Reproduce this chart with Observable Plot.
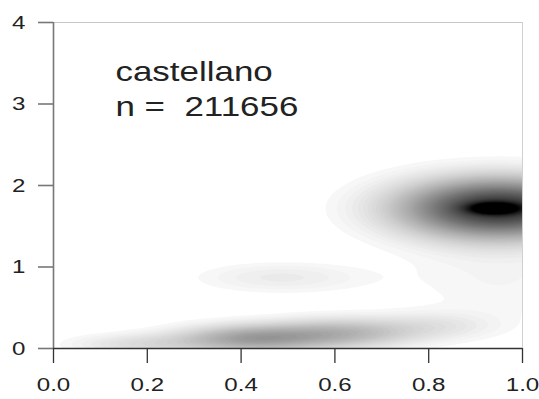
<!DOCTYPE html>
<html>
<head>
<meta charset="utf-8">
<script src="https://cdn.jsdelivr.net/npm/d3@7"></script>
<script src="https://cdn.jsdelivr.net/npm/@observablehq/plot@0.6"></script>
<style>
  html, body { margin: 0; padding: 0; background: white; }
  svg text { white-space: pre; }
</style>
</head>
<body>
<div id="chart"></div>
<script>
// Tick labels
const xTicks = [0, 0.2, 0.4, 0.6, 0.8, 1.0];
const yTicks = [0, 1, 2, 3, 4];
const labelLines = ["castellano", "n =  211656"];

// Density estimated as a mixture of Gaussian blobs
const compX  = [0.94, 0.95, 0.485, 0.95, 0.18, 0.42, 0.62, 0.82];
const compY  = [1.72, 1.72, 0.87, 0.85, 0.05, 0.12, 0.19, 0.28];
const compSX = [0.035, 0.145, 0.126, 0.15, 0.10, 0.11, 0.11, 0.09];
const compSY = [0.045, 0.25, 0.133, 0.40, 0.09, 0.12, 0.13, 0.12];
const compW  = [0.55, 0.77, 0.08, 0.045, 0.12, 0.34, 0.25, 0.08];

function dens(x, y) {
  let s = 0;
  for (let i = 0; i < compX.length; i++) {
    const dx = (x - compX[i]) / compSX[i];
    const dy = (y - compY[i]) / compSY[i];
    s += compW[i] * Math.exp(-0.5 * (dx * dx + dy * dy));
  }
  return s;
}

const thresholds = d3.range(0.03, 1.0, 0.015);
const SX = 1.27;

const chart = Plot.plot({
  width: 539,
  height: 399,
  marginLeft: 53,
  marginRight: 17,
  marginTop: 22,
  marginBottom: 51,
  style: {fontFamily: "'Liberation Sans', Arial, sans-serif", background: "white", color: "#222"},
  x: {domain: [0, 1]},
  y: {domain: [0, 4]},
  color: {type: "linear", domain: [0, 0.93], range: ["white", "black"], clamp: true, interpolate: "rgb"},
  marks: [
    Plot.contour({x1: 0, y1: 0, x2: 1, y2: 4, fill: dens, thresholds, stroke: "none"}),
    Plot.ruleY([4], {x1: 0, x2: 1, stroke: "#c8c8c8", strokeWidth: 1}),
    Plot.ruleX([1], {y1: 0, y2: 4, stroke: "#d0d0d0", strokeWidth: 1}),
    Plot.ruleX([0], {y1: 0, y2: 4, stroke: "#777", strokeWidth: 1.6}),
    Plot.ruleY([0], {x1: 0, x2: 1, stroke: "#333", strokeWidth: 1.3}),
    Plot.axisY(yTicks, {tickSize: 15, tickPadding: 13, fontSize: 19, stroke: "#777", strokeWidth: 1.6, fill: "#222", label: null, tickFormat: d => String(d)}),
    Plot.axisX(xTicks, {tickSize: 15, tickPadding: 14, fontSize: 19, stroke: "#333", strokeWidth: 1.3, fill: "#222", label: null, tickFormat: d => d.toFixed(1)}),
    Plot.text([labelLines.join("\n")], {frameAnchor: "top-left", dx: 62, dy: 33.5, lineAnchor: "top", textAnchor: "start", lineHeight: 1.27, fontSize: 27.5, fill: "#222"})
  ]
});

// Reference text is horizontally stretched; stretch glyphs about their anchors
chart.querySelectorAll("text").forEach(t => {
  const tr = t.getAttribute("transform") || "";
  const xa = t.getAttribute("x");
  if (xa !== null && !isNaN(+xa)) t.setAttribute("x", (+xa) / SX);
  t.setAttribute("transform", (tr + ` scale(${SX},1)`).trim());
});

document.getElementById("chart").appendChild(chart);
</script>
</body>
</html>
